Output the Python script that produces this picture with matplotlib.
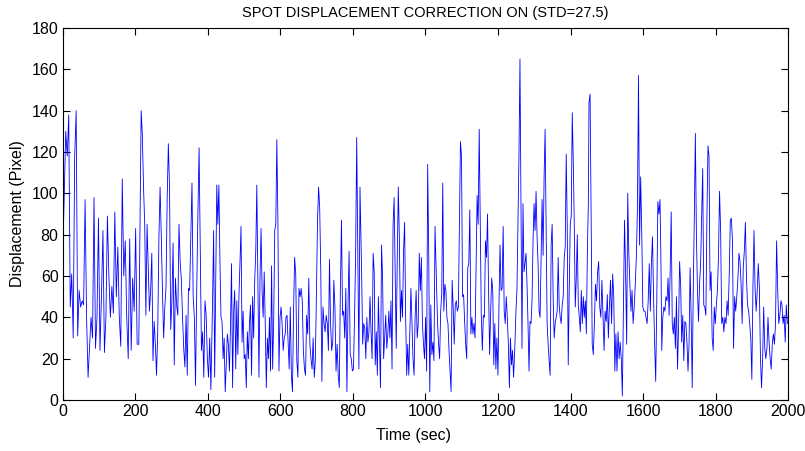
import numpy as np
import matplotlib.pyplot as plt

# displacement, segment by segment
# (start sec, end sec) of each segment, values evenly spread inside it
seg_bounds = [(0, 205), (209.6, 408.4), (413, 613.5), (615.3, 819.5), (824, 1026.4),
              (1033.4, 1243), (1246.8, 1449.2), (1451, 1649.8), (1651.6, 1808), (1811, 1998)]

seg1 = [70, 100, 130, 118, 138, 45, 61, 30, 118, 140, 31, 53, 45, 48, 46, 97, 40, 11, 25, 40,
        30, 98, 25, 40, 88, 24, 50, 82, 23, 40, 89, 60, 40, 55, 42, 91, 50, 74, 40, 26,
        107, 60, 77, 40, 20, 78, 24, 59, 43, 83, 27]
seg2 = [27, 84, 140, 128, 103, 85, 41, 85, 64, 43, 53, 71, 19, 38, 27, 12, 33, 78, 103, 80,
        53, 30, 45, 54, 97, 124, 103, 34, 48, 76, 17, 59, 46, 41, 85, 67, 58, 40, 25, 16,
        41, 12, 54, 53, 80, 105, 50, 40, 7, 53, 90, 122, 71, 24, 33, 11, 48, 41, 20, 11,
        30, 5]
seg3 = [48, 82, 11, 57, 104, 85, 104, 67, 40, 38, 20, 30, 4, 17, 32, 27, 14, 35, 66, 6,
        43, 53, 15, 48, 22, 50, 66, 84, 28, 43, 20, 22, 6, 33, 20, 37, 46, 12, 50, 30,
        58, 72, 104, 56, 11, 58, 83, 53, 40, 62, 37, 6, 30, 20, 40, 14, 65, 15, 38, 82,
        85, 126, 87, 14, 40, 45, 37, 24, 30, 32]
seg4 = [40, 41, 28, 15, 45, 12, 4, 43, 69, 61, 19, 11, 54, 50, 54, 48, 24, 15, 12, 41,
        32, 59, 27, 20, 15, 30, 11, 19, 51, 87, 103, 93, 62, 9, 45, 37, 33, 41, 37, 24,
        68, 37, 24, 28, 58, 45, 14, 27, 12, 6, 53, 87, 41, 43, 30, 54, 4, 46, 72, 22,
        20, 14, 15, 40, 71, 127, 71, 15, 103]
seg5 = [62, 27, 37, 35, 20, 40, 28, 33, 50, 33, 20, 71, 62, 17, 33, 12, 50, 28, 6, 75,
        59, 20, 30, 41, 25, 32, 43, 30, 48, 15, 85, 98, 61, 25, 69, 103, 78, 38, 53, 40,
        72, 86, 40, 12, 27, 12, 32, 54, 38, 20, 12, 40, 53, 30, 37, 71, 53, 69, 37, 27,
        20, 40, 14, 114, 71, 4, 46, 22, 28, 19, 84]
seg6 = [37, 27, 20, 43, 51, 105, 43, 56, 53, 40, 37, 24, 14, 4, 58, 45, 27, 46, 48, 43,
        45, 83, 125, 118, 50, 51, 38, 27, 20, 64, 66, 92, 32, 40, 32, 37, 30, 66, 99, 85,
        131, 85, 41, 24, 41, 40, 77, 69, 90, 53, 22, 43, 59, 53, 17, 37, 15, 30, 12, 46,
        75, 53, 54, 84, 43, 37, 50, 40, 27, 6, 30, 17, 24, 11]
seg7 = [27, 43, 53, 85, 118, 165, 97, 25, 95, 62, 66, 71, 56, 37, 14, 38, 37, 48, 77, 95,
        82, 101, 79, 66, 43, 40, 69, 97, 70, 108, 131, 85, 37, 27, 19, 12, 75, 85, 50, 30,
        37, 40, 43, 69, 46, 40, 37, 46, 50, 69, 74, 119, 84, 17, 53, 85, 89, 139, 116, 85,
        45, 59, 80, 46, 40, 33, 53, 37, 50, 40, 48, 32, 71, 95]
seg8 = [144, 148, 87, 27, 22, 37, 56, 48, 62, 67, 45, 40, 58, 41, 24, 43, 38, 51, 30, 46,
        58, 37, 61, 50, 14, 32, 14, 33, 20, 28, 20, 2, 45, 87, 62, 27, 100, 71, 56, 43,
        53, 37, 45, 56, 69, 92, 157, 75, 108, 82, 45, 43, 43, 40, 37, 48, 66, 43, 66, 79,
        50, 27, 9, 48, 96, 90, 97, 61]
seg9 = [24, 40, 45, 43, 50, 48, 59, 41, 62, 91, 37, 32, 40, 25, 50, 15, 35, 67, 56, 28,
        41, 19, 38, 37, 28, 14, 27, 64, 40, 6, 54, 88, 129, 80, 53, 38, 56, 66, 88, 112,
        46, 45, 41, 88, 123, 118, 53, 62, 30, 24, 45, 37, 46, 53, 69]
seg10 = [101, 82, 37, 40, 33, 40, 37, 48, 41, 61, 87, 88, 77, 25, 50, 43, 50, 58, 71, 67,
         56, 37, 64, 72, 86, 59, 46, 43, 37, 30, 10, 54, 82, 54, 43, 53, 66, 54, 20, 6,
         20, 45, 25, 20, 25, 40, 28, 20, 15, 27, 32, 27, 37, 77, 54, 37, 41, 48, 46, 37,
         41, 28, 46, 37]

segments = [seg1, seg2, seg3, seg4, seg5, seg6, seg7, seg8, seg9, seg10]

time = np.concatenate([np.linspace(a, b, len(s)) for (a, b), s in zip(seg_bounds, segments)])
displacement = np.concatenate([np.array(s, dtype=float) for s in segments])

xticks = list(range(0, 2001, 200))
yticks = list(range(0, 181, 20))

plt.rcParams['font.family'] = ['Liberation Sans', 'DejaVu Sans']

fig = plt.figure(figsize=(8.05, 4.51), dpi=100)
ax = fig.add_axes([0.078, 0.113, 0.901, 0.825])

ax.plot(time, displacement, color='#0000ff', linewidth=0.6)

ax.set_xlim(0, 2000)
ax.set_ylim(0, 180)
ax.set_xticks(xticks)
ax.set_yticks(yticks)
ax.tick_params(direction='in', top=True, right=True, length=5, width=0.8,
               labelsize=11.5, pad=3)
for s in ax.spines.values():
    s.set_linewidth(0.8)

ax.set_xlabel('Time (sec)', fontsize=11.5)
ax.xaxis.set_label_coords(0.483, -0.075)
ax.set_ylabel('Displacement (Pixel)', fontsize=11.5, labelpad=5)
ax.set_title('SPOT DISPLACEMENT CORRECTION ON (STD=27.5)', fontsize=10.5, pad=8)

plt.savefig('out.png', dpi=100)
